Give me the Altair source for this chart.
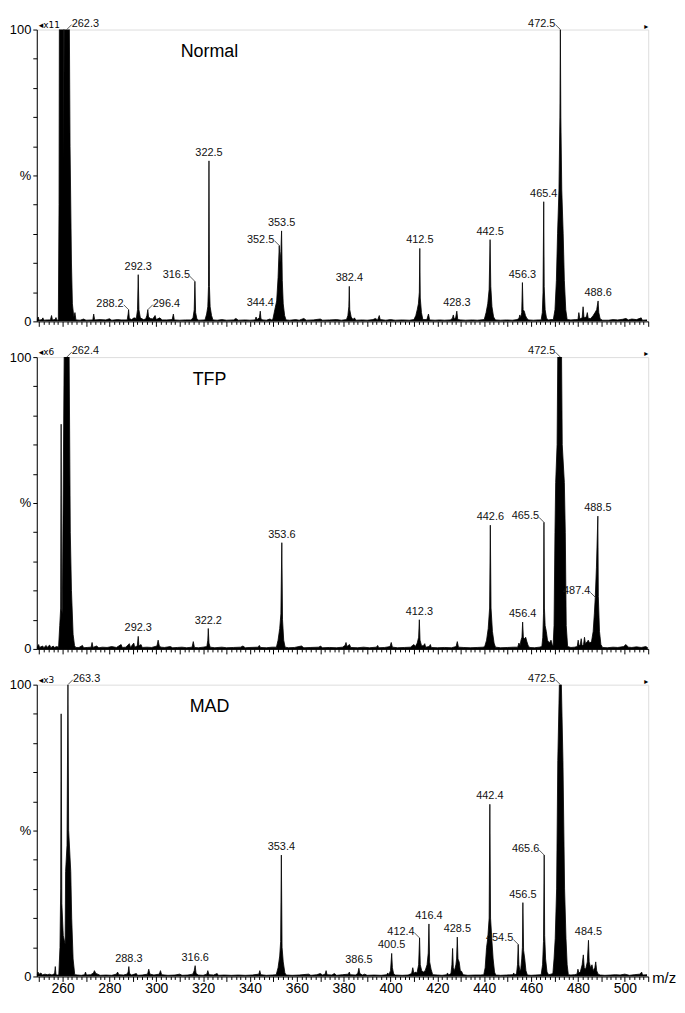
import altair as alt
import pandas as pd

MZ_DOMAIN = [249, 510]

panel_titles = ["Normal", "TFP", "MAD"]
panel_mults = ["\u25c2x11", "\u25c2x6", "\u25c2x3"]

# spectrum vertices (m/z, relative intensity %)
normal_points = [
    (249.0, 0.4), (249.6, 1.5), (250.0, 0.4), (251.2, 0.6), (251.6, 1.2), (252.0, 0.4), (253.5, 0.5),
    (254.8, 0.5), (255.3, 2.0), (255.7, 0.5), (256.8, 0.6), (257.2, 1.3), (257.6, 0.4),
    (258.2, 0.5), (258.5, 40), (258.7, 130), (260.35, 130), (260.55, 56), (260.75, 130), (262.7, 130),
    (263.2, 60), (263.8, 20), (264.2, 6), (264.8, 1.5), (265.3, 3), (265.7, 0.5),
    (267.5, 0.4), (269.0, 0.8), (270.0, 0.4), (272.9, 0.5), (273.3, 2.5), (273.7, 0.5), (276.0, 0.6),
    (278.5, 0.5), (280.0, 0.9), (281.0, 0.4), (283.5, 0.6), (285.0, 0.5),
    (287.6, 0.5), (288.0, 2.5), (288.2, 4.0), (288.5, 1.0), (289.5, 0.6), (290.5, 1.2), (291.5, 1.0),
    (292.0, 4), (292.3, 16), (292.6, 4), (293.2, 1.2), (294.5, 0.6), (295.5, 0.8), (296.0, 2.0),
    (296.4, 4.0), (296.7, 1.5), (297.5, 1.0), (298.5, 0.8), (299.5, 2.0), (300.0, 0.6), (301.5, 1.2),
    (302.5, 0.5), (304.5, 0.5), (306.8, 0.6), (307.3, 2.5), (307.7, 0.5), (310.0, 0.4), (312.5, 0.5),
    (314.8, 0.5), (315.7, 1.2), (316.2, 4), (316.5, 13.7), (316.8, 3), (317.3, 1), (318.0, 0.4),
    (320.8, 0.5), (321.5, 2.5), (322.0, 5), (322.3, 12), (322.5, 55), (322.7, 12), (323.0, 5),
    (323.6, 2), (324.2, 0.5), (326.0, 0.4), (328.0, 0.6), (330.0, 0.4), (333.0, 0.5), (334.0, 1.0),
    (335.0, 0.4), (338.0, 0.5), (340.0, 0.4), (342.2, 0.5), (342.6, 1.5), (343.0, 0.6), (344.0, 1.2),
    (344.4, 3.5), (344.7, 0.8), (345.5, 0.5), (347.0, 0.4), (348.5, 0.8), (349.3, 0.5),
    (349.8, 0.8), (350.6, 4), (351.4, 7), (352.0, 15), (352.5, 26), (352.8, 20), (353.2, 24),
    (353.5, 31), (353.8, 14), (354.2, 6), (354.8, 2), (355.4, 0.5),
    (357.0, 0.4), (359.5, 0.6), (361.0, 0.4), (363.0, 1.0), (364.0, 0.4), (367.0, 0.5), (370.0, 0.8),
    (371.0, 0.4), (374.0, 0.5), (377.0, 0.6), (379.0, 0.4),
    (381.2, 0.6), (381.8, 2), (382.2, 5), (382.4, 12), (382.6, 4), (383.2, 1.5), (384.0, 0.6),
    (384.6, 1.2), (385.2, 0.4), (388.0, 0.5), (390.0, 0.4), (392.5, 0.6), (393.5, 1.0), (394.5, 0.5),
    (395.2, 2.0), (395.6, 0.6), (398.0, 0.4), (400.0, 0.6), (402.0, 0.4), (405.0, 0.5), (408.0, 0.4),
    (410.0, 0.6), (410.8, 2), (411.4, 4), (411.9, 6), (412.3, 10), (412.5, 25), (412.7, 8),
    (413.2, 3), (413.8, 0.6), (415.5, 0.6), (416.2, 2.5), (416.7, 0.5), (419.0, 0.4), (421.0, 0.5),
    (423.0, 0.4), (425.5, 0.5), (426.4, 1), (426.8, 2.2), (427.2, 0.8), (427.8, 1.2), (428.3, 3.5),
    (428.7, 0.6), (430.0, 0.5), (432.0, 0.4), (435.0, 0.5), (437.0, 0.4),
    (440.0, 0.6), (440.8, 3), (441.5, 6), (442.1, 11), (442.5, 28), (442.8, 12), (443.3, 5),
    (444.0, 1.5), (444.8, 0.5), (447.0, 0.4), (449.5, 0.5), (452.0, 0.4), (454.0, 0.6),
    (454.8, 1), (455.2, 2.2), (455.6, 1.2), (456.0, 3), (456.3, 13.3), (456.6, 4), (457.1, 3.5),
    (457.6, 2), (458.2, 1), (459.0, 0.5), (461.0, 0.4), (463.0, 0.5),
    (464.3, 0.5), (464.8, 3), (465.1, 10), (465.4, 41), (465.6, 12), (466.0, 4), (466.6, 1),
    (467.5, 0.5), (468.5, 0.6),
    (469.5, 0.6), (470.2, 4), (470.8, 14), (471.3, 30), (471.9, 45), (472.3, 70), (472.5, 100),
    (472.7, 70), (473.1, 45), (473.7, 30), (474.2, 14), (474.8, 4), (475.4, 0.6),
    (477.0, 0.5), (479.0, 0.6), (480.0, 0.6), (480.4, 3.0), (480.8, 0.8), (481.8, 1.2), (482.2, 5.0),
    (482.6, 1.2), (483.6, 1.5), (484.0, 3.0), (484.4, 1.0), (485.5, 1.0), (486.5, 2.0), (487.3, 3.0),
    (488.0, 4), (488.6, 7), (488.9, 3), (489.5, 0.8), (490.5, 0.4),
    (493.0, 0.4), (495.0, 0.6), (497.0, 0.5), (499.0, 0.7), (500.5, 1.0), (501.5, 0.5), (503.0, 0.8),
    (505.0, 0.6), (507.0, 1.2), (507.5, 0.4), (509.5, 0.5),
]

tfp_points = [
    (249.0, 0.5), (249.8, 1.5), (250.2, 0.5), (251.5, 1.0), (252.0, 0.4), (253.0, 1.2), (253.4, 0.5),
    (254.5, 1.3), (255.0, 0.4), (256.0, 1.0), (256.5, 0.5), (257.5, 0.8),
    (258.3, 0.6), (258.8, 8), (259.2, 14), (259.4, 77), (259.55, 14), (259.9, 12), (260.7, 101),
    (262.8, 101), (263.3, 40), (263.8, 20), (264.5, 5), (265.1, 1.2), (265.6, 0.5),
    (267.0, 0.5), (268.5, 1.2), (269.0, 0.4), (270.5, 0.5), (272.2, 0.6), (272.6, 2.2), (273.0, 0.5),
    (274.5, 1.0), (275.5, 0.4), (277.0, 0.6), (279.0, 0.5), (281.0, 0.8), (283.0, 0.5), (285.0, 1.5),
    (285.5, 0.5), (287.0, 0.6), (288.5, 1.8), (289.0, 0.5), (290.4, 2.0), (290.8, 0.6),
    (291.9, 1), (292.3, 4.3), (292.6, 1), (293.5, 1.5), (294.0, 0.5), (296.0, 0.6), (298.0, 0.5),
    (300.3, 1), (300.8, 3.0), (301.3, 1), (302.0, 0.6), (303.5, 0.5), (306.0, 0.8), (307.0, 0.4),
    (309.0, 0.5), (311.0, 0.6), (313.0, 0.4), (315.3, 0.6), (315.8, 2.5), (316.3, 0.5), (318.0, 0.4),
    (320.0, 0.6), (321.6, 0.8), (322.0, 3), (322.2, 7), (322.5, 2), (323.0, 0.6), (325.0, 0.4),
    (328.0, 0.6), (330.0, 0.4), (333.0, 0.5), (336.0, 0.6), (337.0, 1.0), (338.0, 0.4), (340.0, 0.5),
    (343.5, 0.6), (344.0, 1.2), (344.5, 0.5), (347.0, 0.4), (349.5, 0.6),
    (351.3, 0.6), (352.0, 3), (352.7, 7), (353.2, 12), (353.6, 36.4), (353.9, 10), (354.4, 3),
    (355.0, 0.6), (356.5, 0.4), (359.0, 0.5), (362.0, 1.0), (363.0, 0.4), (366.0, 0.5), (369.5, 0.6),
    (370.0, 1.0), (371.0, 0.4), (374.0, 0.5), (377.0, 0.4), (379.5, 0.6),
    (380.6, 1.2), (381.0, 2.2), (381.4, 0.8), (382.5, 1.5), (383.0, 0.5), (386.0, 0.4), (388.5, 0.6),
    (391.0, 0.4), (394.0, 0.6), (394.5, 1.2), (395.0, 0.4), (397.5, 0.5), (399.8, 0.8), (400.3, 2.2),
    (400.8, 0.6), (403.0, 0.4), (406.0, 0.5), (408.5, 0.6),
    (410.0, 1.5), (410.6, 0.8), (411.4, 2), (412.0, 4), (412.3, 10), (412.6, 3), (413.2, 1.2),
    (414.0, 1.0), (414.6, 1.8), (415.0, 0.6), (416.5, 0.8), (417.0, 1.5), (417.4, 0.5), (420.0, 0.4),
    (423.0, 0.5), (426.0, 0.4), (428.0, 0.8), (428.5, 2.5), (429.0, 0.6), (431.0, 0.5), (434.0, 0.4),
    (437.0, 0.5), (439.5, 0.6),
    (440.2, 0.8), (441.0, 3), (441.7, 7), (442.3, 14), (442.6, 42.4), (442.9, 14), (443.5, 6),
    (444.2, 2), (444.8, 0.6), (447.0, 0.4), (450.0, 0.5), (452.5, 0.6),
    (454.3, 0.6), (454.8, 2), (455.3, 1.2), (455.7, 3), (456.1, 4), (456.4, 9.2), (456.7, 4),
    (457.2, 3.5), (457.7, 4), (458.2, 2.5), (458.8, 1), (459.5, 0.5), (461.5, 0.4), (463.5, 0.6),
    (464.6, 0.8), (465.0, 4), (465.3, 12), (465.5, 43.4), (465.7, 14), (466.0, 8), (466.5, 6),
    (467.0, 3), (467.8, 2), (468.5, 3), (469.0, 1.5),
    (469.4, 1), (469.8, 8), (470.2, 40), (470.5, 57), (471.1, 70), (471.4, 101), (473.0, 101),
    (473.3, 70), (474.2, 57), (474.6, 40), (475.0, 8), (475.6, 0.8),
    (477.0, 0.5), (478.5, 0.6), (479.7, 0.8), (480.1, 3.0), (480.5, 1), (481.0, 1.5), (481.4, 3.5),
    (481.8, 1.0), (482.4, 1.5), (482.8, 4.0), (483.2, 1.8), (484.0, 2.5), (484.4, 3), (485.0, 2.0),
    (485.8, 2.5), (486.5, 6), (487.0, 12), (487.4, 17.7), (487.9, 28), (488.5, 45.5), (488.7, 18),
    (489.2, 6), (489.8, 1.5), (490.5, 0.5),
    (492.5, 0.4), (495.0, 0.6), (497.0, 0.5), (499.5, 0.8), (500.5, 1.5), (501.5, 0.6), (503.0, 0.5),
    (505.0, 0.7), (507.0, 0.5), (509.0, 0.8), (509.8, 0.4),
]

mad_points = [
    (249.0, 0.6), (249.5, 1.5), (250.0, 0.8), (250.8, 1.2), (251.3, 0.5), (252.5, 0.8), (253.5, 0.6),
    (254.5, 0.8), (255.5, 0.5), (256.6, 1), (256.9, 3.4), (257.2, 0.6), (257.8, 0.5),
    (258.4, 0.6), (258.9, 10), (259.2, 30), (259.4, 90), (259.7, 25), (260.3, 14), (261.1, 11),
    (261.3, 36), (261.9, 45), (262.3, 100), (262.6, 50), (263.5, 36), (263.9, 20), (264.5, 6),
    (265.2, 0.6),
    (266.5, 0.5), (268.0, 0.4), (269.4, 0.6), (269.8, 1.5), (270.2, 0.5), (272.0, 0.6), (273.2, 1.2),
    (273.6, 2.0), (274.2, 1.0), (275.0, 0.8), (276.0, 0.4), (278.5, 0.5), (281.0, 0.4), (283.0, 0.8),
    (283.5, 1.5), (284.0, 0.6), (286.0, 0.5), (287.5, 0.8), (288.0, 1.5), (288.3, 3.4), (288.6, 1),
    (289.5, 0.5), (291.5, 1.0), (292.0, 0.4), (294.0, 0.5), (296.3, 0.8), (296.8, 2.5), (297.3, 0.8),
    (299.0, 0.5), (301.3, 0.8), (301.8, 2.0), (302.3, 0.6), (305.0, 0.4), (308.0, 0.5), (310.0, 0.8),
    (311.0, 0.4), (313.5, 0.5), (315.6, 0.8), (316.2, 2), (316.6, 3.7), (317.0, 1), (318.0, 0.5),
    (320.0, 0.4), (321.6, 0.8), (322.0, 2.0), (322.5, 0.6), (324.5, 0.5), (326.0, 1.0), (326.5, 0.4),
    (329.0, 0.5), (332.0, 0.4), (335.0, 0.5), (338.0, 0.4), (341.0, 0.5), (343.8, 0.8), (344.2, 2.0),
    (344.6, 0.6), (347.0, 0.4), (349.5, 0.5),
    (351.2, 0.6), (352.0, 3), (352.7, 7), (353.1, 12), (353.4, 41.6), (353.7, 10), (354.2, 5),
    (354.9, 1.2), (355.5, 0.5), (358.0, 0.4), (361.0, 0.5), (365.0, 0.8), (366.0, 0.4), (368.5, 0.6),
    (370.0, 1.0), (371.0, 0.5), (372.1, 0.8), (372.5, 2.0), (372.9, 0.6), (375.0, 0.5), (376.0, 1.0),
    (377.0, 0.4), (379.5, 0.6), (382.0, 0.8), (382.4, 1.5), (382.8, 0.6), (385.0, 0.5), (386.0, 1),
    (386.5, 2.8), (386.9, 1), (388.0, 0.5), (389.0, 0.8), (390.0, 0.4), (393.0, 0.5), (396.0, 0.4),
    (398.4, 0.6), (398.8, 1.2), (399.3, 0.6),
    (400.0, 2), (400.5, 7.9), (400.8, 3), (401.3, 1), (402.0, 0.5), (405.0, 0.4), (407.5, 0.5),
    (409.0, 1), (409.5, 3.0), (410.0, 1.0), (410.5, 1.5), (411.3, 1.2), (412.0, 4), (412.4, 13.2),
    (412.7, 4), (413.3, 2), (414.0, 1.5), (414.8, 2.0), (415.6, 4), (416.1, 8), (416.4, 18),
    (416.7, 5), (417.3, 2.5), (418.0, 0.6), (420.0, 0.5), (422.0, 0.4), (424.0, 0.6), (424.3, 1.2),
    (424.8, 0.5), (425.8, 1), (426.2, 4), (426.5, 9.6), (426.8, 3), (427.3, 2), (427.9, 4),
    (428.2, 6), (428.5, 13.5), (428.8, 6), (429.3, 5), (429.8, 2), (430.3, 1.8), (431.0, 0.6),
    (433.0, 0.4), (436.0, 0.5), (438.5, 0.5),
    (439.8, 0.6), (440.4, 3), (441.0, 10), (441.5, 13), (442.1, 20), (442.4, 59), (442.7, 20),
    (443.3, 12), (443.8, 6), (444.4, 1.5), (444.9, 0.5), (447.0, 0.4), (449.5, 0.5), (452.2, 0.6),
    (452.6, 1.2), (453.0, 0.5), (453.8, 1), (454.2, 4), (454.5, 11), (454.8, 4), (455.2, 2),
    (455.6, 2.5), (456.0, 6), (456.3, 10), (456.5, 25.3), (456.8, 9), (457.3, 6), (457.8, 2),
    (458.4, 0.5), (460.0, 0.4), (462.0, 0.5),
    (464.3, 0.6), (464.9, 4), (465.3, 12), (465.6, 41.6), (465.8, 14), (466.2, 6), (466.8, 1.5),
    (467.5, 0.6), (468.5, 0.8),
    (469.3, 1), (469.8, 6), (470.3, 13), (470.9, 30), (471.4, 74), (472.1, 101), (472.9, 101),
    (473.6, 74), (474.3, 30), (474.9, 13), (475.4, 4), (475.9, 0.6),
    (477.0, 0.5), (478.5, 0.6), (479.6, 0.8), (480.0, 2.5), (480.4, 1.2), (481.0, 1.5), (481.8, 4),
    (482.3, 7.4), (482.7, 3), (483.3, 2.5), (484.0, 5), (484.5, 12.4), (484.8, 5), (485.4, 3),
    (486.0, 4), (486.5, 2), (487.2, 3), (487.6, 5), (488.0, 2), (488.6, 0.8), (489.5, 0.5),
    (491.5, 0.4), (494.0, 0.5), (496.0, 0.6), (498.0, 0.5), (500.0, 0.8), (502.0, 0.4), (504.0, 0.6),
    (506.5, 0.8), (507.2, 1.5), (507.6, 0.5), (509.5, 0.6),
]

# peak labels: text, m/z of the labelled peak, its height, label side (c = above, l = left, r = right)
normal_labels = [
    ("262.3", 261.8, 100, "r"), ("288.2", 288.2, 4, "l"), ("292.3", 292.3, 16, "c"),
    ("296.4", 296.4, 4, "r"), ("316.5", 316.5, 13.7, "l"), ("322.5", 322.5, 55, "c"),
    ("344.4", 344.4, 3.5, "c"), ("352.5", 352.5, 26, "l"), ("353.5", 353.5, 31, "c"),
    ("382.4", 382.4, 12, "c"), ("412.5", 412.5, 25, "c"), ("428.3", 428.3, 3.5, "c"),
    ("442.5", 442.5, 28, "c"), ("456.3", 456.3, 13.3, "c"), ("465.4", 465.4, 41, "c"),
    ("472.5", 472.5, 100, "l"), ("488.6", 488.6, 7, "c"),
]
tfp_labels = [
    ("262.4", 261.8, 100, "r"), ("292.3", 292.3, 4.3, "c"), ("322.2", 322.2, 7, "c"),
    ("353.6", 353.6, 36.4, "c"), ("412.3", 412.3, 10, "c"), ("442.6", 442.6, 42.4, "c"),
    ("456.4", 456.4, 9.2, "c"), ("465.5", 465.5, 43.4, "l"), ("472.5", 472.5, 100, "l"),
    ("487.4", 487.4, 17.7, "l"), ("488.5", 488.5, 45.5, "c"),
]
mad_labels = [
    ("263.3", 262.3, 100, "r"), ("288.3", 288.3, 3.4, "c"), ("316.6", 316.6, 3.7, "c"),
    ("353.4", 353.4, 41.6, "c"), ("386.5", 386.5, 2.8, "c"), ("400.5", 400.5, 7.9, "c"),
    ("412.4", 412.4, 13.2, "l"), ("416.4", 416.4, 18, "c"), ("428.5", 428.5, 13.5, "c"),
    ("442.4", 442.4, 59, "c"), ("454.5", 454.5, 11, "l"), ("456.5", 456.5, 25.3, "c"),
    ("465.6", 465.6, 41.6, "l"), ("472.5", 472.5, 100, "l"), ("484.5", 484.5, 12.4, "c"),
]

x_tick_values = list(range(250, 511, 2))
y_tick_values = list(range(0, 101, 10))

FONT = "Liberation Sans"
W, H = 616, 294


def panel(points, labels, title, mult, bottom):
    df = pd.DataFrame(points, columns=["mz", "inten"])
    lab = pd.DataFrame(labels, columns=["text", "mz", "inten", "side"])

    xaxis_kw = dict(
        values=x_tick_values,
        tickSize={"condition": {"test": "datum.value % 10 === 0", "value": 5}, "value": 3},
        grid=False, title=None, domainColor="black", tickColor="black",
        labelOverlap=False, labelFlush=False,
    )
    if bottom:
        xaxis_kw.update(labelExpr="datum.value % 20 === 0 ? datum.label : ''",
                        labelFontSize=14, labelFont=FONT, labelColor="black", labelPadding=0)
    else:
        xaxis_kw.update(labels=False)
    x = alt.X("mz:Q", scale=alt.Scale(domain=MZ_DOMAIN, nice=False, zero=False),
              axis=alt.Axis(**xaxis_kw))
    y = alt.Y("inten:Q", scale=alt.Scale(domain=[0, 100], nice=False, zero=True),
              axis=alt.Axis(values=y_tick_values, tickSize=4, grid=False, title=None,
                            labelExpr="datum.value == 100 ? '100' : (datum.value == 50 ? '%' : (datum.value == 0 ? '0' : ''))",
                            labelFontSize=13, labelFont=FONT, labelColor="black",
                            domainColor="black", tickColor="black", labelPadding=2))

    base = alt.Chart(df)
    area = base.mark_area(color="black", clip=True, interpolate="linear").encode(x=x, y=y)
    line = base.mark_line(color="black", strokeWidth=0.8, clip=True).encode(x=x, y=y)

    lc = lab[lab.side == "c"]
    ll = lab[lab.side == "l"]
    lr = lab[lab.side == "r"]
    txt_c = alt.Chart(lc).mark_text(align="center", baseline="bottom", dy=-3, fontSize=11,
                                     font=FONT, color="#111").encode(x=x, y=y, text="text:N")
    txt_l = alt.Chart(ll).mark_text(align="right", baseline="bottom", dx=-5, dy=-1, fontSize=11,
                                     font=FONT, color="#111").encode(x=x, y=y, text="text:N")
    txt_r = alt.Chart(lr).mark_text(align="left", baseline="bottom", dx=5, dy=-1, fontSize=11,
                                     font=FONT, color="#111").encode(x=x, y=y, text="text:N")
    rule_l = alt.Chart(ll).mark_rule(color="#333", strokeWidth=0.8, x2Offset=-5, y2Offset=-5).encode(
        x=x, y=y, x2="mz:Q", y2="inten:Q")
    rule_r = alt.Chart(lr).mark_rule(color="#333", strokeWidth=0.8, x2Offset=5, y2Offset=-5).encode(
        x=x, y=y, x2="mz:Q", y2="inten:Q")

    ttl = alt.Chart(pd.DataFrame({"t": [title]})).mark_text(
        align="center", baseline="middle", fontSize=18, font=FONT, color="black"
    ).encode(text="t:N", x=alt.value(174), y=alt.value(23))
    mul = alt.Chart(pd.DataFrame({"t": [mult]})).mark_text(
        align="left", baseline="middle", fontSize=9, font="DejaVu Sans", color="black"
    ).encode(text="t:N", x=alt.value(2), y=alt.value(-5))
    arr = alt.Chart(pd.DataFrame({"t": ["\u25b8"]})).mark_text(
        align="center", baseline="middle", fontSize=8, font="DejaVu Sans", color="black"
    ).encode(text="t:N", x=alt.value(614), y=alt.value(-3))

    layers = [area, line, rule_l, rule_r, txt_c, txt_l, txt_r, ttl, mul, arr]
    if bottom:
        mz_lab = alt.Chart(pd.DataFrame({"t": ["m/z"]})).mark_text(
            align="left", baseline="middle", fontSize=15, font=FONT, color="black"
        ).encode(text="t:N", x=alt.value(620), y=alt.value(296))
        layers.append(mz_lab)
    return alt.layer(*layers).properties(width=W, height=H)


p1 = panel(normal_points, normal_labels, panel_titles[0], panel_mults[0], False)
p2 = panel(tfp_points, tfp_labels, panel_titles[1], panel_mults[1], False)
p3 = panel(mad_points, mad_labels, panel_titles[2], panel_mults[2], True)

chart = alt.vconcat(p1, p2, p3, spacing=36, bounds="flush").properties(
    padding={"left": 0, "top": 5, "right": 0, "bottom": 0}
).configure_view(stroke=None).configure(font=FONT, background="white")

chart.save("out.html", embed_options={"renderer": "svg", "actions": False})
